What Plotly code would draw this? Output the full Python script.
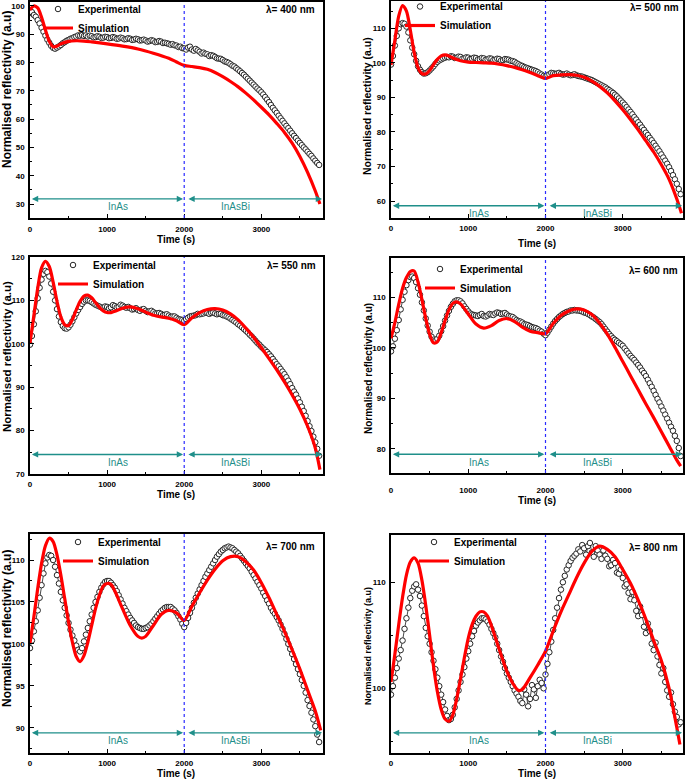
import plotly.graph_objects as go

# ---------------- data ----------------
T_EXP = list(range(0, 3751, 25))  # sampling times of the experimental points (s)

EXP_400 = [97.5, 97.8, 96.8, 96.2, 95.0, 93.8, 92.3, 90.9, 89.5, 88.1, 87.0, 85.9, 85.2, 84.9, 85.3, 85.7, 86.2, 86.8, 87.2, 87.7,
           88.0, 88.4, 88.6, 89.0, 89.2, 89.6, 89.5, 89.7, 89.4, 89.6, 89.2, 89.5, 89.3, 88.9, 89.0, 89.3, 89.1, 88.7, 88.8, 89.1,
           89.0, 88.6, 88.7, 89.0, 88.8, 88.4, 88.5, 88.8, 88.6, 88.2, 88.3, 88.6, 88.4, 88.0, 88.1, 88.4, 88.2, 87.8, 87.9, 88.1,
           87.8, 87.4, 87.6, 87.9, 87.7, 87.2, 87.3, 87.6, 87.4, 86.9, 87.0, 86.8, 86.6, 86.3, 86.5, 86.1, 86.0, 85.5, 85.6, 85.1,
           85.0, 84.6, 85.3, 85.6, 84.6, 84.2, 84.8, 84.3, 83.8, 83.2, 83.5, 83.1, 82.9, 82.3, 82.6, 82.4, 82.0, 81.5, 81.4, 81.3,
           80.9, 80.4, 80.2, 79.9, 79.4, 78.9, 78.6, 78.0, 77.5, 76.9, 76.3, 75.7, 75.0, 74.3, 73.6, 72.9, 72.2, 71.5, 70.8, 70.2,
           69.5, 68.7, 67.8, 66.9, 66.0, 65.0, 64.0, 63.1, 62.2, 61.2, 60.3, 59.4, 58.5, 57.6, 56.8, 55.9, 55.0, 54.1, 53.3, 52.4,
           51.6, 50.8, 50.0, 49.3, 48.5, 47.7, 47.0, 46.1, 45.3, 44.5, 43.8]
EXP_500 = [99.5, 102.0, 105.0, 107.8, 110.0, 111.2, 111.5, 111.3, 110.5, 108.8, 106.5, 104.4, 102.5, 100.6, 99.0, 98.0, 97.3, 96.9, 97.0, 97.3,
           97.8, 98.4, 99.0, 99.7, 100.3, 100.7, 101.0, 101.3, 101.5, 101.7, 101.6, 101.9, 101.8, 101.4, 101.5, 101.8, 101.7, 101.2, 101.3, 101.6,
           101.5, 101.1, 101.2, 101.5, 101.4, 101.0, 101.1, 101.4, 101.3, 100.9, 101.0, 101.3, 101.2, 100.8, 100.9, 101.2, 101.1, 100.7, 100.8, 101.1,
           101.0, 100.9, 100.6, 100.5, 100.3, 99.9, 99.6, 99.3, 99.1, 98.8, 98.6, 98.4, 98.2, 98.0, 97.8, 97.6, 97.3, 96.9, 96.6, 96.2,
           96.0, 96.4, 96.7, 97.1, 97.0, 96.8, 96.9, 97.1, 96.8, 96.6, 96.7, 96.9, 96.6, 96.4, 96.5, 96.7, 96.4, 96.2, 96.1, 96.0,
           95.8, 95.6, 95.4, 95.2, 95.0, 94.7, 94.4, 94.1, 93.8, 93.5, 93.2, 92.9, 92.5, 92.1, 91.7, 91.3, 90.8, 90.3, 89.7, 89.1,
           88.5, 87.9, 87.2, 86.5, 85.8, 85.1, 84.3, 83.6, 82.8, 82.1, 81.3, 80.6, 79.8, 79.1, 78.3, 77.6, 76.8, 76.0, 75.2, 74.4,
           73.5, 72.6, 71.7, 70.8, 69.8, 68.7, 67.5, 66.3, 65.0, 63.5, 62.0]
EXP_550 = [99.8, 101.8, 104.5, 107.5, 110.5, 112.9, 114.8, 116.1, 116.8, 116.5, 115.5, 113.9, 112.0, 110.0, 108.0, 106.3, 105.0, 104.1, 103.6, 103.5,
           103.8, 104.4, 105.2, 106.1, 107.0, 107.8, 108.5, 109.2, 109.7, 110.0, 110.0, 109.9, 109.6, 109.3, 109.0, 108.8, 108.6, 108.4, 108.3, 108.6,
           108.5, 108.2, 108.4, 108.9, 108.7, 108.4, 108.5, 109.0, 108.8, 108.5, 108.3, 108.5, 108.2, 107.9, 108.0, 108.2, 107.8, 107.6, 107.9, 108.0,
           107.6, 107.3, 107.5, 107.6, 107.3, 107.0, 107.0, 107.1, 106.9, 106.6, 106.7, 106.8, 106.5, 106.2, 106.3, 106.3, 106.0, 105.7, 105.6, 105.5,
           105.3, 105.7, 106.0, 106.3, 106.4, 106.5, 106.6, 106.9, 106.8, 106.9, 107.0, 107.2, 107.1, 106.9, 107.1, 107.2, 107.0, 106.8, 106.9, 106.9,
           106.6, 106.5, 106.3, 106.1, 105.8, 105.5, 105.2, 104.9, 104.5, 104.2, 103.8, 103.4, 103.0, 102.6, 102.1, 101.7, 101.2, 100.7, 100.2, 99.8,
           99.3, 98.9, 98.5, 98.1, 97.6, 97.1, 96.5, 95.9, 95.3, 94.8, 94.2, 93.6, 93.0, 92.3, 91.5, 90.7, 89.8, 89.0, 88.3, 87.4,
           86.5, 85.5, 84.5, 83.4, 82.2, 81.0, 79.9, 78.6, 77.3, 75.8, 74.2]
EXP_600 = [99.3, 100.3, 101.8, 103.5, 105.5, 107.6, 109.5, 111.1, 112.4, 113.4, 114.0, 114.1, 113.8, 113.0, 111.8, 110.5, 109.0, 107.4, 105.8, 104.4,
           103.2, 102.2, 101.6, 101.4, 101.8, 102.4, 103.3, 104.3, 105.4, 106.4, 107.3, 108.1, 108.7, 109.2, 109.4, 109.4, 109.2, 108.8, 108.2, 107.7,
           107.2, 106.8, 106.6, 106.5, 106.4, 106.3, 106.5, 106.7, 106.3, 106.2, 106.4, 106.7, 106.6, 106.5, 106.8, 107.0, 106.9, 106.7, 106.8, 106.9,
           106.6, 106.3, 106.2, 106.1, 105.8, 105.5, 105.3, 105.2, 105.0, 104.7, 104.6, 104.5, 104.3, 104.1, 104.0, 103.9, 103.7, 103.4, 103.2, 102.8,
           102.5, 103.0, 103.6, 104.2, 104.8, 105.3, 105.7, 106.1, 106.4, 106.7, 106.9, 107.1, 107.2, 107.4, 107.4, 107.5, 107.4, 107.4, 107.3, 107.2,
           107.0, 106.9, 106.7, 106.5, 106.2, 106.0, 105.7, 105.4, 105.1, 104.7, 104.2, 103.7, 103.2, 102.7, 102.3, 101.9, 101.6, 101.3, 101.0, 100.7,
           100.4, 99.9, 99.4, 98.9, 98.4, 98.0, 97.6, 97.1, 96.6, 96.1, 95.5, 95.0, 94.4, 93.7, 93.0, 92.3, 91.5, 90.7, 89.9, 89.2,
           88.4, 87.6, 86.8, 86.0, 85.2, 84.4, 83.6, 82.6, 81.6, 80.2, 78.6]
EXP_700 = [99.5, 100.4, 101.5, 102.7, 104.0, 105.5, 107.0, 108.4, 109.6, 110.3, 110.6, 110.5, 110.0, 109.2, 108.2, 107.2, 106.2, 105.2, 104.3, 103.4,
           102.5, 101.7, 101.0, 100.4, 99.8, 99.3, 99.1, 99.5, 100.3, 101.1, 101.9, 102.7, 103.5, 104.3, 105.0, 105.6, 106.2, 106.7, 107.1, 107.4,
           107.5, 107.5, 107.3, 107.0, 106.7, 106.3, 105.8, 105.3, 104.8, 104.3, 103.9, 103.5, 103.1, 102.8, 102.5, 102.2, 102.0, 101.9, 101.8, 101.8,
           101.9, 102.0, 102.2, 102.4, 102.7, 103.0, 103.3, 103.6, 103.9, 104.1, 104.3, 104.4, 104.4, 104.4, 104.2, 104.0, 103.7, 103.3, 102.9, 102.4,
           102.0, 102.5, 103.1, 103.7, 104.3, 104.9, 105.5, 106.0, 106.5, 107.0, 107.5, 108.0, 108.4, 108.8, 109.2, 109.6, 110.0, 110.4, 110.7, 111.0,
           111.2, 111.4, 111.5, 111.6, 111.5, 111.4, 111.2, 111.0, 110.8, 110.5, 110.2, 109.9, 109.6, 109.3, 109.0, 108.6, 108.2, 107.8, 107.4, 107.0,
           106.6, 106.1, 105.7, 105.2, 104.8, 104.3, 103.9, 103.6, 103.2, 102.8, 102.3, 101.8, 101.2, 100.6, 100.0, 99.4, 98.8, 98.2, 97.6, 97.0,
           96.4, 95.7, 95.0, 94.2, 93.3, 92.6, 91.8, 91.0, 90.2, 89.2, 88.3]
EXP_800 = [99.4, 100.2, 101.0, 101.9, 102.8, 103.6, 104.5, 105.6, 106.6, 107.6, 108.5, 109.2, 109.6, 109.8, 109.3, 108.7, 107.8, 106.8, 105.7, 104.9,
           104.2, 103.4, 102.6, 101.8, 101.0, 100.2, 99.4, 98.7, 98.0, 97.4, 97.0, 97.1, 97.5, 98.2, 99.0, 99.8, 100.6, 101.3, 102.0, 102.8,
           103.5, 104.2, 104.9, 105.4, 105.9, 106.2, 106.4, 106.6, 106.6, 106.5, 106.3, 106.0, 105.6, 105.2, 104.8, 104.2, 103.6, 103.0, 102.5, 101.9,
           101.4, 101.0, 100.6, 100.2, 99.8, 99.5, 99.2, 98.8, 98.6, 99.9, 99.4, 98.3, 99.0, 100.3, 99.9, 99.1, 100.2, 100.8, 100.5, 100.0,
           101.3, 102.3, 103.4, 104.4, 105.5, 106.6, 107.6, 108.5, 109.3, 110.0, 110.6, 111.2, 111.6, 112.0, 112.3, 112.5, 112.7, 113.1, 112.9, 113.5,
           113.2, 112.6, 113.4, 113.7, 112.8, 112.4, 113.4, 113.0, 112.6, 112.2, 113.0, 112.5, 112.2, 111.5, 111.6, 112.1, 111.8, 110.9, 110.8, 111.2,
           110.4, 109.6, 109.8, 109.0, 108.4, 109.1, 108.3, 107.3, 106.8, 107.7, 106.9, 105.8, 105.2, 106.1, 105.4, 104.2, 103.6, 104.3, 103.0, 102.2,
           101.4, 101.9, 100.6, 99.8, 99.2, 99.6, 98.5, 97.8, 97.3, 96.6, 96.8]

SIM_T_400 = [0, 50, 100, 150, 200, 250, 300, 350, 400, 500, 600, 700, 800, 1000, 1200, 1400, 1600, 1800, 1900, 2000,
             2100, 2200, 2300, 2400, 2500, 2600, 2700, 2800, 2900, 3000, 3100, 3200, 3300, 3400, 3500, 3600, 3700, 3760]
SIM_400 = [98.6, 100.0, 99.3, 96.0, 91.5, 87.5, 85.6, 85.8, 86.6, 87.5, 87.7, 87.6, 87.3, 86.6, 85.8, 84.8, 83.3, 81.5, 80.2, 79.0,
           78.6, 78.2, 77.6, 76.5, 75.0, 73.3, 71.4, 69.2, 66.8, 64.2, 61.5, 58.5, 55.3, 51.5, 46.8, 41.2, 34.6, 30.0]

SIM_T_500 = [0, 50, 100, 150, 200, 250, 300, 350, 400, 450, 500, 550, 600, 650, 700, 750, 800, 900, 1000, 1100, 1200,
             1300, 1400, 1500, 1600, 1700, 1800, 1900, 2000, 2100, 2200, 2300, 2400, 2500, 2600, 2700, 2800, 2900, 3000,
             3100, 3200, 3300, 3400, 3500, 3600, 3700, 3760]
SIM_500 = [99.4, 106.5, 113.5, 116.6, 115.0, 109.5, 103.0, 98.6, 96.9, 96.8, 97.8, 99.5, 101.0, 102.0, 102.3, 102.0, 101.4, 100.6, 100.2, 100.1, 100.0,
           99.9, 99.6, 99.2, 98.7, 98.0, 97.2, 96.3, 95.5, 96.3, 96.5, 96.6, 96.4, 95.8, 94.7, 93.2, 91.3, 89.0, 86.4,
           83.6, 80.6, 77.4, 74.2, 70.5, 66.3, 60.6, 56.5]

SIM_T_550 = [0, 50, 100, 150, 200, 250, 300, 350, 400, 450, 500, 550, 600, 650, 700, 750, 800, 850, 900, 950, 1000, 1050, 1100,
             1200, 1300, 1400, 1500, 1600, 1700, 1800, 1900, 2000, 2100, 2200, 2300, 2400, 2500, 2600, 2700, 2800, 2900,
             3000, 3100, 3200, 3300, 3400, 3500, 3600, 3700, 3760]
SIM_550 = [100.2, 106.5, 112.8, 117.5, 119.0, 117.8, 114.2, 109.8, 106.2, 104.4, 104.2, 105.6, 107.8, 109.8, 111.0, 111.2, 110.6, 109.5, 108.4, 107.6, 107.2, 107.2, 107.5,
           108.2, 108.5, 108.1, 107.3, 106.6, 106.2, 105.9, 105.3, 104.4, 106.0, 107.2, 107.9, 108.1, 107.8, 106.9, 105.5, 103.6, 101.5,
           99.1, 96.6, 94.0, 91.2, 88.2, 84.9, 81.0, 76.0, 71.0]

SIM_T_600 = [0, 50, 100, 150, 200, 250, 300, 350, 400, 450, 500, 550, 600, 650, 700, 750, 800, 850, 900,
             1000, 1100, 1200, 1300, 1400, 1500, 1600, 1700, 1800, 1900, 2000, 2100, 2200, 2300, 2400, 2500, 2600, 2700,
             2800, 2900, 3000, 3100, 3200, 3300, 3400, 3500, 3600, 3700, 3750]
SIM_600 = [101.9, 105.0, 108.6, 111.8, 113.9, 115.1, 115.2, 113.0, 109.6, 105.8, 102.7, 101.0, 101.2, 103.0, 105.4, 107.5, 108.8, 109.1, 108.7,
           106.7, 104.7, 103.9, 104.4, 105.4, 105.8, 105.2, 104.1, 103.3, 103.0, 102.8, 104.8, 106.4, 107.3, 107.7, 107.5, 106.6, 104.9,
           102.7, 100.1, 97.3, 94.5, 91.7, 88.9, 86.2, 83.4, 80.6, 77.8, 76.6]

SIM_T_700 = [0, 50, 100, 150, 200, 250, 300, 350, 400, 450, 500, 550, 600, 650, 700, 750, 800, 850, 900, 950, 1000, 1050, 1100,
             1200, 1300, 1400, 1450, 1500, 1600, 1700, 1800, 1900, 2000, 2100, 2200, 2300, 2400, 2500, 2600, 2700, 2800,
             2900, 3000, 3100, 3200, 3300, 3400, 3500, 3600, 3700, 3770]
SIM_700 = [100.1, 103.2, 106.6, 109.6, 111.7, 112.6, 112.2, 110.6, 108.2, 105.4, 102.6, 100.2, 98.5, 97.9, 98.6, 100.2, 102.2, 104.2, 105.8, 106.9, 107.2, 107.1, 106.3,
           104.2, 102.2, 100.9, 100.7, 100.9, 102.2, 103.5, 104.0, 103.7, 102.8, 104.5, 106.1, 107.6, 108.9, 109.9, 110.4, 110.4, 109.8,
           108.8, 107.3, 105.5, 103.5, 101.5, 99.3, 97.0, 94.5, 92.0, 89.7]

SIM_T_800 = [0, 50, 100, 150, 200, 250, 300, 350, 400, 450, 500, 550, 600, 650, 700, 750, 800, 850, 900, 950, 1000, 1050, 1100, 1150, 1200, 1250, 1300,
             1400, 1500, 1600, 1650, 1700, 1800, 1900, 2000, 2100, 2200, 2300, 2400, 2500, 2600, 2700, 2800, 2900, 3000,
             3100, 3200, 3300, 3400, 3500, 3600, 3700, 3740]
SIM_800 = [100.6, 103.2, 106.0, 108.6, 110.7, 111.9, 112.3, 111.8, 110.2, 107.8, 105.0, 102.1, 99.7, 98.0, 97.1, 96.9, 97.5, 99.0, 100.9, 102.9, 104.7, 106.0, 106.8, 107.2, 107.2, 106.8, 105.9,
           103.7, 101.6, 100.2, 99.8, 99.9, 101.0, 102.2, 103.5, 105.4, 107.2, 108.8, 110.4, 111.8, 112.9, 113.4, 113.1, 112.4, 111.2,
           109.9, 108.3, 106.5, 104.5, 102.6, 100.0, 96.3, 94.7]

WAVELENGTHS = ["400", "500", "550", "600", "700", "800"]
EXP_SERIES = [EXP_400, EXP_500, EXP_550, EXP_600, EXP_700, EXP_800]
SIM_TIMES = [SIM_T_400, SIM_T_500, SIM_T_550, SIM_T_600, SIM_T_700, SIM_T_800]
SIM_SERIES = [SIM_400, SIM_500, SIM_550, SIM_600, SIM_700, SIM_800]
Y_RANGES = [[25.05, 101.4], [55.1, 117.9], [70, 120], [75.25, 117.77], [87.0, 113.1], [93.9, 114.45]]
Y_DTICK = [10, 10, 10, 10, 5, 10]
ARROW_Y = [31.8, 58.65, 74.5, 78.95, 89.4, 95.8]
X_MAX = [3800, 3780, 3800, 3780, 3800, 3780]
BOUNDARY_T = 2000
X_TICKS = [0, 1000, 2000, 3000]
X_TITLE = "Time (s)"
Y_TITLE = "Normalised reflectivity (a.u)"

for s in EXP_SERIES:
    assert len(s) == len(T_EXP), len(s)
for t, s in zip(SIM_TIMES, SIM_SERIES):
    assert len(t) == len(s), (len(t), len(s))

# ---------------- layout geometry (pixels) ----------------
W, H = 685, 780
FONT = "Arial, Liberation Sans, sans-serif"
TEAL = "#1f8f8a"
# (left, right, top, bottom) of each plot area
BOXES = [(30, 323, 2, 218), (391, 683, 1, 218),
         (30, 323, 257, 474), (391, 683, 258, 473),
         (30, 323, 534, 753), (391, 683, 535, 753)]
XLAB_STANDOFF = [3, 2, 2, 9, 2, 2]
LEGEND_POS = [(38, -5.5), (400, -8), (53, 250.5), (420, 254.5), (58, 527.5), (414, 527.5)]
LAMBDA_POS = [(317, 10), (681, 8), (318, 265), (680, 270), (317, 546), (680, 547)]
XTITLE_POS = [(176.5, 239), (537, 243), (176.5, 494.5), (537, 500.5), (176.5, 773), (537, 773)]
YTITLE_POS = [(7, 90), (367, 106), (7, 357), (368, 369), (7, 629), (368, 646)]
YTITLE_SIZE = [12, 10.5, 11.5, 10, 12, 9]


def px(x):
    return x / W


def py(y):
    return 1 - y / H


fig = go.Figure()
layout = dict(width=W, height=H, margin=dict(l=0, r=0, t=0, b=0, autoexpand=False),
              plot_bgcolor="white", paper_bgcolor="white", template="none",
              font=dict(family=FONT, color="black"), showlegend=True)
annotations = []
shapes = []

for i in range(6):
    n = "" if i == 0 else str(i + 1)
    xa, ya = "x" + n, "y" + n
    lg = "legend" + n
    L, R, T, B = BOXES[i]

    # thin trace joining the densely sampled measurements (under the circles)
    fig.add_trace(go.Scatter(
        x=T_EXP, y=EXP_SERIES[i], mode="lines", showlegend=False, hoverinfo="skip",
        xaxis=xa, yaxis=ya, legend=lg, line=dict(color="#4a4a4a", width=1),
    ))
    fig.add_trace(go.Scatter(
        x=T_EXP, y=EXP_SERIES[i], mode="markers", name="Experimental",
        xaxis=xa, yaxis=ya, legend=lg,
        marker=dict(symbol="circle", size=5.5, color="white", line=dict(width=1, color="#262626")),
    ))
    fig.add_trace(go.Scatter(
        x=SIM_TIMES[i], y=SIM_SERIES[i], mode="lines", name="Simulation",
        xaxis=xa, yaxis=ya, legend=lg,
        line=dict(color="#ff0000", width=3.2, shape="spline", smoothing=0.8),
    ))

    axis_common = dict(showline=True, linecolor="black", linewidth=1.5, mirror=True,
                       showgrid=False, zeroline=False, ticks="inside", ticklen=4,
                       tickwidth=1, tickcolor="black", automargin=False)
    layout["xaxis" + n] = dict(
        axis_common, domain=[px(L), px(R)], range=[0, X_MAX[i]], anchor=ya,
        tickvals=X_TICKS, ticktext=[str(v) for v in X_TICKS],
        minor=dict(ticks="inside", ticklen=2, dtick=500, tickcolor="black"),
        tickfont=dict(family=FONT, size=8, weight="bold"),
        ticklabelstandoff=XLAB_STANDOFF[i],
    )
    layout["yaxis" + n] = dict(
        axis_common, domain=[py(B), py(T)], range=Y_RANGES[i], anchor=xa,
        dtick=Y_DTICK[i], tick0=0,
        minor=dict(ticks="inside", ticklen=2, dtick=Y_DTICK[i] / 2, tickcolor="black"),
        tickfont=dict(family=FONT, size=8, weight="bold"),
        ticklabelstandoff=2,
    )
    lx, ly = LEGEND_POS[i]
    layout[lg] = dict(x=px(lx), y=py(ly), xanchor="left", yanchor="top",
                      bgcolor="rgba(0,0,0,0)", borderwidth=0, tracegroupgap=0,
                      itemwidth=30, font=dict(family=FONT, size=10, weight="bold"))

    # axis titles
    tx, ty = XTITLE_POS[i]
    annotations.append(dict(x=px(tx), y=py(ty), xref="paper", yref="paper", xanchor="center",
                            yanchor="middle", showarrow=False, text=X_TITLE,
                            font=dict(family=FONT, size=10, weight="bold")))
    tx, ty = YTITLE_POS[i]
    annotations.append(dict(x=px(tx), y=py(ty), xref="paper", yref="paper", xanchor="center",
                            yanchor="middle", showarrow=False, text=Y_TITLE, textangle=-90,
                            font=dict(family=FONT, size=YTITLE_SIZE[i], weight="bold")))

    # boundary between InAs and InAsBi
    shapes.append(dict(type="line", xref=xa, yref=ya + " domain", x0=BOUNDARY_T, x1=BOUNDARY_T,
                       y0=0, y1=1, line=dict(color="#2b2bff", width=1.2, dash="dot")))
    # layer arrows
    ay = ARROW_Y[i]
    for (x0, x1) in [(5, BOUNDARY_T - 15), (BOUNDARY_T + 35, X_MAX[i] - 12)]:
        annotations.append(dict(x=x1, y=ay, ax=x0, ay=ay, xref=xa, yref=ya, axref=xa, ayref=ya,
                                text="", showarrow=True, arrowhead=2, arrowside="end+start",
                                arrowsize=0.9, arrowwidth=1.4, arrowcolor=TEAL))
    annotations.append(dict(x=1140, y=ay, xref=xa, yref=ya, text="InAs", showarrow=False,
                            yshift=-8, font=dict(family=FONT, size=10, color=TEAL)))
    annotations.append(dict(x=2670, y=ay, xref=xa, yref=ya, text="InAsBi", showarrow=False,
                            yshift=-8, font=dict(family=FONT, size=10, color=TEAL)))
    lxp, lyp = LAMBDA_POS[i]
    annotations.append(dict(x=px(lxp), y=py(lyp), xref="paper", yref="paper", xanchor="right",
                            yanchor="middle", showarrow=False, text="λ= " + WAVELENGTHS[i] + " nm",
                            font=dict(family=FONT, size=10, weight="bold")))

layout["annotations"] = annotations
layout["shapes"] = shapes
fig.update_layout(**layout)
fig.write_html("out.html", config={"displayModeBar": False},
               post_script="document.body.style.margin='0';document.body.style.overflow='hidden';")
